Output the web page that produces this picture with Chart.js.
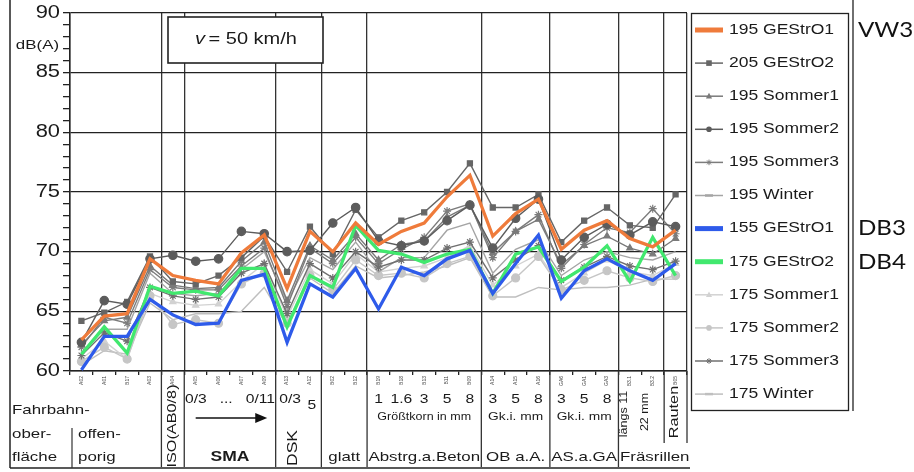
<!DOCTYPE html>
<html><head><meta charset="utf-8">
<script src="https://cdn.jsdelivr.net/npm/chart.js@4.4.1/dist/chart.umd.min.js"></script>
<style>html,body{margin:0;padding:0;background:#fff;}#wrap{width:914px;height:472px;position:relative;}</style>
</head><body><div id="wrap"><canvas id="c" width="914" height="472"></canvas></div>
<script>
// ---- data ----
const categories = ["A02","A01","B17","A03","A04","A05","A06","A07","A09","A13","A12","B02","B12","B19","B18","B13","B11","B09","A14","A15","A16","GA6","GA1","GA3","B3.1","B3.2","B05"];
const yTicks = [60,65,70,75,80,85,90];
const seriesNames = ["195 GEStrO1","205 GEStrO2","195 Sommer1","195 Sommer2","195 Sommer3","195 Winter","155 GEStrO1","175 GEStrO2","175 Sommer1","175 Sommer2","175 Sommer3","175 Winter"];
const v195GEStrO1 = [62.6,64.6,64.8,69.4,68.0,67.6,67.3,69.9,71.4,66.9,71.7,70.0,72.4,70.6,71.7,72.4,74.6,76.4,71.3,73.2,74.4,70.2,71.8,72.6,71.1,70.4,71.8];
const v205GEStrO2 = [64.2,64.9,65.8,69.6,67.5,67.3,68.0,69.5,71.3,68.3,72.1,69.8,73.5,71.2,72.6,73.3,75.0,77.4,73.7,73.7,74.8,70.8,72.6,73.7,72.2,72.0,74.8];
const v195Sommer1 = [62.2,64.2,64.5,68.8,67.2,66.9,67.0,69.2,70.8,65.9,70.5,69.3,71.5,69.3,70.6,70.9,72.9,73.9,69.9,71.7,72.7,68.9,70.5,71.3,70.3,69.8,71.1];
const v195Sommer2 = [62.4,65.9,65.6,69.4,69.7,69.2,69.4,71.7,71.5,70.0,70.1,72.4,73.7,70.9,70.5,70.9,72.6,73.9,70.3,72.8,74.4,69.3,71.2,72.3,71.4,72.5,72.1];
const v195Sommer3 = [62.0,64.5,64.0,68.5,67.0,66.8,66.8,68.8,70.3,65.4,70.3,69.0,71.2,69.0,70.2,71.2,73.4,74.0,69.5,71.7,73.1,68.6,70.6,72.0,71.6,73.6,71.5];
const v195Winter  = [61.5,63.5,63.5,68.2,66.5,66.3,66.5,68.5,70.0,65.8,69.5,68.5,70.8,68.3,69.5,69.5,71.8,72.4,68.2,70.2,71.0,68.0,69.3,70.0,69.5,69.3,70.0];
const v155GEStrO1 = [60.1,62.9,62.9,66.0,64.7,63.9,64.0,67.6,68.1,62.4,67.3,66.2,68.6,65.2,68.7,68.0,69.4,70.1,66.5,69.0,71.4,66.1,68.4,69.4,68.4,67.6,69.0];
const v175GEStrO2 = [61.4,63.7,61.5,67.1,66.5,66.7,66.3,68.6,68.6,63.7,68.0,67.0,72.2,70.1,69.8,69.1,69.8,70.2,66.5,69.8,70.4,67.5,68.7,70.5,67.5,71.2,68.0];
const v175Sommer1 = [61.0,62.5,61.0,66.5,65.8,65.5,65.6,67.5,69.0,64.5,68.5,67.3,69.8,68.3,68.6,68.8,69.5,70.5,67.2,68.8,69.8,67.0,68.2,69.3,68.3,68.0,69.0];
const v175Sommer2 = [60.8,62.0,61.0,66.3,63.9,64.3,64.0,67.3,68.2,64.0,68.0,66.8,69.3,68.0,68.2,67.8,69.0,69.6,66.3,67.8,69.6,66.8,67.6,68.4,67.8,67.5,68.0];
const v175Sommer3 = [61.3,63.2,62.5,67.0,66.3,66.0,66.2,68.2,69.0,64.8,69.0,67.8,70.0,68.7,69.3,69.3,70.3,70.8,67.8,69.3,70.5,67.6,68.7,69.6,68.8,68.5,69.2];
const v175Winter  = [60.5,61.7,61.4,65.7,64.3,64.8,64.8,65.0,67.0,63.8,67.8,66.5,68.8,67.8,68.0,68.3,68.8,69.5,66.2,66.2,67.0,66.8,67.0,67.0,67.2,67.7,67.7];
const groupStarts = [4,5,9,11,13,18,21,24,26];

// ---- styles ----
const FONT = "'Liberation Sans', Arial, sans-serif";
const SX = 1.25;
function ds(label, data, color, width, style, radius, order){
  return {label, data, borderColor:color, backgroundColor:color, borderWidth:width,
    pointStyle:style||'circle', pointRadius: style?radius:0, pointBorderColor:color, pointBackgroundColor:color,
    pointBorderWidth:1.2, tension:0, order:order, _mk:style||'line'};
}
const datasets = [
  ds(seriesNames[0], v195GEStrO1, '#EF7B3B', 3.3, null, 0, 0),
  ds(seriesNames[1], v205GEStrO2, '#666666', 1.4, 'rect', 3.6, 5),
  ds(seriesNames[2], v195Sommer1, '#7a7a7a', 1.4, 'triangle', 3.6, 6),
  ds(seriesNames[3], v195Sommer2, '#5c5c5c', 1.4, 'circle', 4.2, 4),
  ds(seriesNames[4], v195Sommer3, '#7c7c7c', 1.4, 'star', 4, 7),
  ds(seriesNames[5], v195Winter, '#a5a5a5', 1.4, null, 0, 8),
  ds(seriesNames[6], v155GEStrO1, '#2E5BEA', 3.3, null, 0, 1),
  ds(seriesNames[7], v175GEStrO2, '#41E86E', 3.3, null, 0, 2),
  ds(seriesNames[8], v175Sommer1, '#d2d2d2', 1.4, 'triangle', 3.6, 10),
  ds(seriesNames[9], v175Sommer2, '#c6c6c6', 1.4, 'circle', 4, 9),
  ds(seriesNames[10], v175Sommer3, '#707070', 1.4, 'star', 4, 3),
  ds(seriesNames[11], v175Winter, '#bfbfbf', 1.4, null, 0, 11)
];

function stext(ctx, text, x, y, size, align, opts){
  opts = opts||{};
  ctx.save();
  ctx.font = (opts.weight||'') + ' ' + (opts.italic?'italic ':'') + size + 'px ' + (opts.family||FONT);
  ctx.fillStyle = opts.color||'#1a1a1a';
  ctx.textBaseline = 'middle';
  ctx.textAlign = 'left';
  const sx = opts.sx||SX;
  const w = ctx.measureText(text).width*sx;
  let left = x;
  if (align==='center') left = x - w/2; else if (align==='right') left = x - w;
  if (opts.rot){
    ctx.translate(x, y); ctx.rotate(-Math.PI/2);
    ctx.scale(sx,1);
    ctx.fillText(text, -ctx.measureText(text).width/2, 0);
  } else {
    ctx.translate(left, y); ctx.scale(sx,1);
    ctx.fillText(text, 0, 0);
  }
  ctx.restore();
}
function marker(ctx, style, x, y, r, color){
  ctx.save(); ctx.fillStyle=color; ctx.strokeStyle=color; ctx.lineWidth=1;
  ctx.beginPath();
  if (style==='rect'){ ctx.fillRect(x-r,y-r,2*r,2*r); }
  else if (style==='circle'){ ctx.arc(x,y,r,0,Math.PI*2); ctx.fill(); }
  else if (style==='triangle'){ ctx.moveTo(x,y-r*1.2); ctx.lineTo(x+r*1.1,y+r*0.8); ctx.lineTo(x-r*1.1,y+r*0.8); ctx.closePath(); ctx.fill(); }
  else if (style==='star'){ for(let a=0;a<4;a++){const t=a*Math.PI/4; ctx.moveTo(x-r*Math.cos(t),y-r*Math.sin(t)); ctx.lineTo(x+r*Math.cos(t),y+r*Math.sin(t));} ctx.stroke(); }
  ctx.restore();
}
function line(ctx,x1,y1,x2,y2,w,c){ctx.save();ctx.strokeStyle=c||'#222';ctx.lineWidth=w||1.2;ctx.beginPath();ctx.moveTo(x1,y1);ctx.lineTo(x2,y2);ctx.stroke();ctx.restore();}

const deco = {
  id:'deco',
  afterDraw(chart){
    const ctx = chart.ctx, xs = chart.scales.x, ys = chart.scales.y, ca = chart.chartArea;
    const px = i => xs.getPixelForValue(i);
    const half = (px(1)-px(0))/2;
    const sep = i => px(i) - half;
    // y labels
    ys.ticks.forEach(t => { if (yTicks.includes(t.value)) stext(ctx, String(t.value), ca.left-10, ys.getPixelForValue(t.value), 17.5, 'right'); });
    stext(ctx, 'dB(A)', ca.left-11, 45, 13.5, 'right');
    // v box
    ctx.save(); ctx.fillStyle='#fff'; ctx.fillRect(168,17,155,46); ctx.strokeStyle='#222'; ctx.lineWidth=1.6; ctx.strokeRect(168,17,155,46); ctx.restore();
    stext(ctx, 'v', 195, 40, 16, 'left', {italic:true});
    stext(ctx, ' = 50 km/h', 203, 40, 16, 'left');
    // frame
    line(ctx, 10, 0, 10, 468, 1.5);
    line(ctx, 10, 468, 690, 468, 1.5);
    // separators extended
    groupStarts.forEach(i => { const x = sep(i); line(ctx, x, ca.bottom, x, i===26?443:467, 1.3, '#333'); });
    line(ctx, ca.right, ca.bottom, ca.right, 443, 1.3, '#333');
    line(ctx, 72, 428, 72, 468, 1.2, '#333');
    // bottom annotations
    const F = 13.5;
    stext(ctx,'Fahrbahn-',12,410,F,'left');
    stext(ctx,'ober-',12,434,F,'left');
    stext(ctx,'offen-',78,434,F,'left');
    stext(ctx,'fläche',12,457,F,'left');
    stext(ctx,'porig',78,457,F,'left');
    stext(ctx,'ISO(AB0/8)',px(4),426,13,'center',{rot:true});
    stext(ctx,'0/3   ...   0/11',(px(5)+px(8))/2,400,12.5,'center');
    // arrow
    line(ctx, px(5), 418, px(8)-8, 418, 1.5, '#111');
    ctx.save(); ctx.fillStyle='#111'; ctx.beginPath(); ctx.moveTo(px(8)+3,418); ctx.lineTo(px(8)-9,413); ctx.lineTo(px(8)-9,423); ctx.closePath(); ctx.fill(); ctx.restore();
    stext(ctx,'SMA',(px(5)+px(8))/2,457,14,'center',{weight:'bold'});
    stext(ctx,'0/3',px(9)+3,400,12.5,'center');
    stext(ctx,'5',px(10)+2,406,12.5,'center');
    stext(ctx,'DSK',px(9)+6,448,14,'center',{rot:true});
    stext(ctx,'glatt',(px(11)+px(12))/2,457,F,'center');
    ['1','1.6','3','5','8'].forEach((t,k)=>stext(ctx,t,px(13+k),400,12.5,'center'));
    stext(ctx,'Größtkorn in mm',(px(13)+px(17))/2,417,10,'center');
    stext(ctx,'Abstrg.a.Beton',(px(13)+px(17))/2,457,F,'center');
    ['3','5','8'].forEach((t,k)=>{stext(ctx,t,px(18+k),400,12.5,'center');stext(ctx,t,px(21+k),400,12.5,'center');});
    stext(ctx,'Gk.i. mm',px(19),417,11,'center');
    stext(ctx,'Gk.i. mm',px(22),417,11,'center');
    stext(ctx,'OB a.A.',px(19),457,F,'center');
    stext(ctx,'AS.a.GA',px(22),457,F,'center');
    stext(ctx,'längs 11',px(24)-6,414,10,'center',{rot:true});
    stext(ctx,'22 mm',px(25)-7,412,10,'center',{rot:true});
    stext(ctx,'Fräsrillen',(px(24)+px(26))/2+2,457,F,'center');
    stext(ctx,'Rauten',px(26)-1,412,13,'center',{rot:true});
    // legend
    ctx.save(); ctx.strokeStyle='#222'; ctx.lineWidth=1.3; ctx.strokeRect(691.5,13.5,157,397); ctx.restore();
    line(ctx, 853, 0, 853, 411, 1.3);
    chart.data.datasets.forEach((d,i)=>{
      const y = 30 + i*33.1;
      line(ctx, 695, y, 723, y, d.borderWidth>2?5:1.5, d.borderColor);
      if (d._mk!=='line') marker(ctx, d._mk, 709, y, 2.8, d.borderColor);
      else if (d.borderWidth<2) line(ctx,705,y,713,y,2.5,d.borderColor);
      stext(ctx, d.label, 729, y, 14, 'left');
    });
    stext(ctx,'VW3',858,30,21,'left',{family:"Lato, 'Open Sans', sans-serif", sx:1.15, color:'#111'});
    stext(ctx,'DB3',858,228,21,'left',{family:"Lato, 'Open Sans', sans-serif", sx:1.15, color:'#111'});
    stext(ctx,'DB4',858,262,21,'left',{family:"Lato, 'Open Sans', sans-serif", sx:1.15, color:'#111'});
  }
};

new Chart(document.getElementById('c'), {
  type:'line',
  data:{labels:categories, datasets},
  options:{
    responsive:false, animation:false,
    layout:{padding:{left:10,right:227,top:13,bottom:0}},
    plugins:{legend:{display:false}, tooltip:{enabled:false}},
    scales:{
      x:{offset:true,
        grid:{offset:true, drawTicks:true, tickLength:4, tickColor:'#222', lineWidth:1.3,
          color: c => (c.type!=='tick' || c.index===0 || groupStarts.includes(c.index)) ? '#333' : 'rgba(0,0,0,0)'},
        border:{color:'#222', width:1.5},
        ticks:{autoSkip:false, maxRotation:90, minRotation:90, padding:1, color:'#444', font:{size:5, family:FONT}},
        afterFit: s => { s.height = 101; }
      },
      y:{min:60, max:90,
        ticks:{stepSize:1, display:false},
        grid:{drawTicks:true, tickLength:7, tickColor:'#222', lineWidth:1.3,
          color: c => (c.tick && c.tick.value%5===0) ? '#222' : 'rgba(0,0,0,0)'},
        border:{color:'#222', width:1.5},
        afterFit: s => { s.width = 60; }
      }
    }
  },
  plugins:[deco]
});
</script></body></html>
